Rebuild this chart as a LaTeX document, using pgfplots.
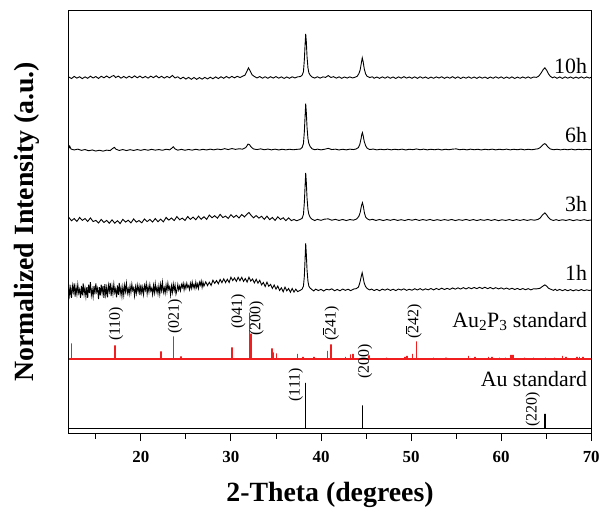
\documentclass[border=0pt]{standalone}
\usepackage{fontspec}
\setmainfont{Liberation Serif}
\usepackage{pgfplots}
\pgfplotsset{compat=1.18}
\definecolor{xrdred}{RGB}{240,30,30}
% bar over a digit (negative Miller index)
\newcommand{\ob}[1]{\rlap{\rule[0.74em]{0.5em}{0.055em}}#1}

\begin{document}
\begin{tikzpicture}[
  hkl/.style={rotate=90, anchor=west, inner sep=0pt, font=\fontsize{16}{16}\selectfont},
  lab/.style={anchor=base east, inner sep=0pt, font=\fontsize{22}{22}\selectfont},
]
\begin{axis}[
  scale only axis, width=524bp, height=425bp,
  xmin=12, xmax=70, ymin=0, ymax=425,
  xtick={20,30,...,70}, minor xtick={15,25,...,65},
  ytick=\empty,
  xtick pos=bottom, tick align=outside,
  major tick length=7.5bp, minor tick length=5bp,
  axis line style={line width=0.9bp},
  every tick/.style={black, line width=0.9bp},
  every minor tick/.style={black, line width=0.9bp},
  tick label style={font=\bfseries\fontsize{17}{17}\selectfont},
  xticklabel style={yshift=-7bp},
  /pgf/number format/assume math mode=true,
  clip=false,
]

% 10h
\addplot[black, line width=0.9bp] coordinates {
(12.0,357.8) (12.3,356.2) (12.6,358.4) (12.9,356.6) (13.2,358.0) (13.5,356.1) (13.8,357.9) (14.1,356.5) (14.4,358.6) (14.7,356.8)
(15.0,358.2) (15.3,356.3) (15.6,358.5) (15.9,357.0) (16.2,358.8) (16.5,356.9) (16.8,358.6) (17.0,359.3) (17.2,357.2) (17.5,358.7)
(17.8,356.6) (18.1,358.3) (18.4,356.7) (18.7,358.5) (19.0,356.9) (19.3,358.9) (19.6,357.0) (19.9,358.7) (20.2,356.8) (20.5,358.4)
(20.8,356.6) (21.1,358.6) (21.4,357.1) (21.7,359.0) (22.0,356.9) (22.3,358.5) (22.6,356.7) (22.9,358.3) (23.2,357.0) (23.5,359.4)
(23.8,356.8) (24.1,358.0) (24.4,355.9) (24.7,357.6) (25.0,355.7) (25.3,357.4) (25.6,355.5) (25.9,357.3) (26.2,355.4) (26.5,357.2)
(26.8,355.6) (27.1,357.4) (27.4,355.8) (27.7,357.6) (28.0,356.0) (28.3,357.9) (28.6,356.2) (28.9,358.0) (29.2,356.5) (29.5,358.3)
(29.8,356.7) (30.1,358.4) (30.4,356.9) (30.7,358.5) (31.0,357.2) (31.3,358.6) (31.55,359.5) (31.75,363) (31.95,367) (32.15,363.5)
(32.35,360) (32.6,358.3) (32.9,356.8) (33.2,358.2) (33.5,356.6) (33.8,358.0) (34.1,356.5) (34.4,358.1) (34.7,356.7) (35.0,358.2)
(35.3,356.6) (35.6,357.9) (35.9,356.4) (36.2,357.8) (36.5,356.5) (36.8,358.0) (37.1,356.8) (37.4,357.9) (37.7,358.2)
(37.9,359.5) (38.05,363) (38.15,375) (38.23,390) (38.3,401) (38.37,393) (38.45,378) (38.55,367) (38.65,362) (38.8,359.5) (39.0,357.8)
(39.3,356.7) (39.6,358.0) (39.9,356.6) (40.2,357.9) (40.5,357.4) (40.8,359.2) (41.1,357.3) (41.4,358.1) (41.7,356.6) (42.0,357.9)
(42.3,356.5) (42.6,357.8) (42.9,356.7) (43.2,357.9) (43.5,356.8) (43.8,357.6) (44.0,358.4)
(44.2,361) (44.35,365) (44.48,372) (44.58,377) (44.68,373) (44.8,366) (44.95,361) (45.1,358.6)
(45.4,357.2) (45.7,358.0) (45.9,356.5) (46.2,357.8) (46.5,356.4) (46.8,357.9) (47.1,356.6) (47.4,358.0) (47.7,356.5) (48.0,357.8)
(48.3,356.3) (48.6,357.9) (48.9,356.6) (49.2,358.1) (49.5,356.7) (49.8,357.8) (50.1,356.5) (50.4,357.9) (50.7,356.4) (51.0,358.0)
(51.3,356.6) (51.6,357.8) (51.9,356.3) (52.2,357.7) (52.5,356.5) (52.8,357.9) (53.1,356.7) (53.4,358.0) (53.7,356.4) (54.0,357.8)
(54.3,356.6) (54.6,358.1) (54.9,356.5) (55.2,357.9) (55.5,356.3) (55.8,357.7) (56.1,356.6) (56.4,357.9) (56.7,356.5) (57.0,357.8)
(57.3,356.4) (57.6,357.9) (57.9,356.6) (58.2,357.7) (58.5,356.3) (58.8,357.8) (59.1,356.5) (59.4,358.0) (59.7,356.6) (60.0,357.9)
(60.3,356.4) (60.6,357.8) (60.9,356.5) (61.2,357.9) (61.5,356.3) (61.8,357.7) (62.1,356.5) (62.4,357.8) (62.7,356.6) (63.0,357.9)
(63.3,356.5) (63.6,357.8) (63.9,357.4)
(64.1,358.2) (64.25,359.5) (64.45,362) (64.65,365) (64.85,367) (65.05,364.5) (65.25,361) (65.45,358.5)
(65.7,357.0) (65.9,357.9) (66.2,356.5) (66.5,357.8) (66.8,356.4) (67.1,357.9) (67.4,356.6) (67.7,357.8) (68.0,356.4) (68.3,357.7)
(68.6,356.5) (68.9,357.9) (69.2,356.6) (69.5,357.8) (69.8,356.7) (70.0,357.5)
};

% 6h
\addplot[black, line width=0.9bp] coordinates {
(12.0,286) (12.1,288.5) (12.25,285.5) (12.6,284.6) (13.0,285.4) (13.4,284.2) (13.8,285.0) (14.2,283.8) (14.6,284.6) (15.0,283.5)
(15.4,284.3) (15.8,283.4) (16.2,284.4) (16.6,284.0) (16.85,286) (17.05,287.2) (17.25,285.3) (17.6,284.1) (18.0,285.0) (18.4,284.0)
(18.8,284.9) (19.2,284.1) (19.6,285.0) (20.0,284.2) (20.4,285.1) (20.8,284.3) (21.2,285.2) (21.6,284.4) (22.0,285.0) (22.4,284.3)
(22.8,285.3) (23.2,284.7) (23.45,286.5) (23.6,287.8) (23.8,285.6) (24.1,284.4) (24.5,285.2) (24.9,284.3) (25.3,285.1) (25.7,284.4)
(26.1,285.3) (26.5,284.5) (26.9,285.2) (27.3,284.6) (27.7,285.4) (28.1,284.7) (28.5,285.5) (28.9,284.9) (29.3,285.9) (29.7,285.0)
(30.1,286.0) (30.5,285.2) (30.9,285.8) (31.3,285.4) (31.65,287) (31.9,290.5) (32.05,290) (32.25,287.5) (32.5,285.6) (32.9,285.0)
(33.3,285.7) (33.7,284.8) (34.1,285.5) (34.5,284.7) (34.9,285.4) (35.3,284.6) (35.7,285.3) (36.1,284.7) (36.5,285.3) (36.9,284.8)
(37.3,285.2) (37.7,285.5)
(37.9,287) (38.05,291) (38.15,303) (38.23,318) (38.3,331) (38.37,322) (38.45,307) (38.55,296) (38.65,291) (38.8,288) (39.0,285.8)
(39.3,284.8) (39.6,285.4) (40.0,284.7) (40.4,285.3) (40.8,286.2) (41.2,285.0) (41.6,285.4) (42.0,284.6) (42.4,285.3) (42.8,284.7)
(43.2,285.4) (43.6,285.0) (43.9,285.6)
(44.15,287) (44.3,290) (44.45,296) (44.52,300) (44.6,302) (44.68,299) (44.8,293) (44.95,289) (45.1,286.5)
(45.4,285.0) (45.8,285.5) (46.2,284.7) (46.6,285.3) (47.0,284.8) (47.4,285.4) (47.8,284.7) (48.2,285.3) (48.6,284.8) (49.0,285.4)
(49.4,284.6) (49.8,285.3) (50.2,284.9) (50.6,285.6) (51.0,284.8) (51.4,285.4) (51.8,284.7) (52.2,285.3) (52.6,284.8) (53.0,285.4)
(53.4,284.6) (53.8,285.3) (54.2,284.8) (54.6,285.4) (55.0,285.7) (55.4,284.8) (55.8,285.3) (56.2,284.7) (56.6,285.4) (57.0,284.8)
(57.4,285.3) (57.8,284.6) (58.2,285.3) (58.6,284.8) (59.0,285.4) (59.4,284.7) (59.8,285.3) (60.2,284.8) (60.6,285.4) (61.0,284.7)
(61.4,285.3) (61.8,284.8) (62.2,285.4) (62.6,284.7) (63.0,285.3) (63.4,284.8) (63.8,285.4)
(64.1,285.8) (64.3,286.8) (64.5,288.5) (64.7,290.3) (64.85,291) (65.0,289.8) (65.2,287.5) (65.45,285.6)
(65.8,284.8) (66.2,285.3) (66.6,284.7) (67.0,285.3) (67.4,284.8) (67.8,285.4) (68.2,284.7) (68.6,285.3) (69.0,284.8) (69.4,285.3)
(69.8,284.9) (70.0,285.2)
};

% 3h
\addplot[black, line width=0.9bp] coordinates {
(12.0,217.0) (12.3,213.6) (12.6,215.8) (12.9,212.9) (13.2,216.9) (13.5,214.0) (13.8,215.8) (14.1,212.9) (14.4,216.4) (14.7,212.8)
(15.0,213.9) (15.3,211.3) (15.6,214.9) (15.9,211.9) (16.2,213.9) (16.5,211.1) (16.8,214.5) (17.1,211.2) (17.4,213.6) (17.7,210.8)
(18.0,215.0) (18.3,212.2) (18.6,214.2) (18.9,211.5) (19.2,215.4) (19.5,212.2) (19.8,213.8) (20.1,211.5) (20.4,215.4) (20.7,212.7)
(21.0,214.9) (21.3,212.3) (21.6,215.8) (21.9,212.6) (22.2,215.2) (22.5,212.5) (22.8,216.9) (23.1,214.2) (23.4,216.4) (23.7,213.8)
(24.0,217.8) (24.3,214.6) (24.6,216.2) (24.9,213.9) (25.2,217.8) (25.5,215.0) (25.8,217.3) (26.1,214.6) (26.4,218.2) (26.7,215.0)
(27.0,217.6) (27.3,214.9) (27.6,219.3) (27.9,216.6) (28.2,218.7) (28.5,216.1) (28.8,220.0) (29.1,216.8) (29.4,218.3) (29.7,215.9)
(30.0,219.7) (30.3,216.9) (30.6,219.1) (30.9,216.4) (31.2,219.9) (31.5,217.4) (31.8,220.4) (32.0,221.9) (32.2,219.5) (32.5,216.5)
(32.8,218.8) (33.1,216.2) (33.4,218.1) (33.7,215.0) (34.0,218.2) (34.3,214.7) (34.6,216.9) (34.9,213.9) (35.2,217.5) (35.5,214.8)
(35.8,216.6) (36.1,213.7) (36.4,216.5) (36.7,213.7) (37.0,214.9) (37.3,213.6) (37.7,215.0)
(37.9,216) (38.05,220) (38.15,232) (38.23,248) (38.3,261.5) (38.37,252) (38.45,236) (38.55,225) (38.65,220) (38.8,217) (39.0,215.2)
(39.3,213.8) (39.6,215.0) (40.0,214.0) (40.4,215.2) (40.8,215.5) (41.2,214.1) (41.6,215.0) (42.0,213.9) (42.4,214.9) (42.8,213.8)
(43.2,214.8) (43.6,214.2) (43.95,215.3)
(44.2,218) (44.35,222) (44.5,229) (44.6,231.7) (44.7,228) (44.83,221) (44.97,217) (45.15,215.4)
(45.4,214.3) (45.7,215.1) (46.1,213.9) (46.5,214.9) (46.9,213.8) (47.3,214.8) (47.7,214.0) (48.1,215.0) (48.5,213.9) (48.9,214.7)
(49.3,213.8) (49.7,214.9) (50.1,214.1) (50.5,215.0) (50.9,213.9) (51.3,214.8) (51.7,214.0) (52.1,214.9) (52.5,213.8) (52.9,214.7)
(53.3,213.9) (53.7,214.8) (54.1,214.0) (54.5,214.9) (54.9,213.8) (55.3,214.7) (55.7,214.0) (56.1,214.9) (56.5,213.9) (56.9,214.8)
(57.3,213.8) (57.7,214.7) (58.1,214.0) (58.5,214.9) (58.9,213.9) (59.3,214.8) (59.7,213.7) (60.1,214.6) (60.5,213.9) (60.9,214.8)
(61.3,213.8) (61.7,214.7) (62.1,213.9) (62.5,214.8) (62.9,213.9) (63.3,214.7) (63.7,214.1)
(64.1,215.0) (64.35,216.5) (64.55,219) (64.85,221.5) (65.05,219.5) (65.25,216.8) (65.5,214.8)
(65.8,213.9) (66.1,214.7) (66.4,213.8) (66.8,214.6) (67.2,213.9) (67.6,214.8) (68.0,213.7) (68.4,214.6) (68.8,213.9) (69.2,214.7)
(69.6,213.8) (70.0,214.4)
};

% 1h
\addplot[black, line width=0.9bp] coordinates {
(12.0,149.5) (12.1,138.7) (12.2,145.9) (12.3,136.3) (12.4,148.3) (12.5,142.3) (12.6,150.7) (12.7,137.5) (12.8,147.1) (12.9,139.9)
(13.0,149.5) (13.1,141.1) (13.2,144.7) (13.3,136.3) (13.4,148.3) (13.5,138.7) (13.6,150.7) (13.7,139.9) (13.8,145.9) (13.9,137.5)
(14.0,147.1) (14.1,136.3) (14.2,149.5) (14.3,141.1) (14.4,151.9) (14.5,138.7) (14.6,144.7) (14.7,137.5) (14.8,148.3) (14.9,139.9)
(15.0,150.7) (15.1,142.3) (15.2,145.9) (15.3,135.1) (15.4,147.1) (15.5,138.7) (15.6,149.5) (15.7,141.1) (15.8,148.3) (15.9,136.3)
(16.0,150.0) (16.1,139.2) (16.2,146.4) (16.3,136.8) (16.4,148.8) (16.5,142.8) (16.6,151.2) (16.7,138.0) (16.8,147.6) (16.9,140.4)
(17.0,150.0) (17.1,141.6) (17.2,145.2) (17.3,136.8) (17.4,148.8) (17.5,139.2) (17.6,151.2) (17.7,140.4) (17.8,146.4) (17.9,138.0)
(18.0,147.2) (18.1,139.1) (18.2,149.0) (18.3,142.7) (18.4,150.8) (18.5,140.9) (18.6,145.4) (18.7,140.0) (18.8,148.1) (18.9,141.8)
(19.0,149.9) (19.1,143.6) (19.2,146.3) (19.3,138.2) (19.4,147.2) (19.5,140.9) (19.6,149.0) (19.7,142.7) (19.8,148.1) (19.9,139.1)
(20.0,149.5) (20.1,141.4) (20.2,146.8) (20.3,139.6) (20.4,148.6) (20.5,144.1) (20.6,150.4) (20.7,140.5) (20.8,147.7) (20.9,142.3)
(21.0,149.5) (21.1,143.2) (21.2,145.9) (21.3,139.6) (21.4,148.6) (21.5,141.4) (21.6,150.4) (21.7,142.3) (21.8,146.8) (21.9,140.5)
(22.0,148.2) (22.1,140.1) (22.2,150.0) (22.3,143.7) (22.4,151.8) (22.5,141.9) (22.6,146.4) (22.7,141.0) (22.8,149.1) (22.9,142.8)
(23.0,150.9) (23.1,144.6) (23.2,147.3) (23.3,139.2) (23.4,148.2) (23.5,141.9) (23.6,150.0) (23.7,143.7) (23.8,149.1) (23.9,140.1)
(24.0,143.8) (24.1,149.6) (24.2,144.2) (24.3,147.9) (24.4,143.5) (24.5,149.6) (24.6,146.7) (24.7,150.8) (24.8,144.4) (24.9,149.6)
(25.0,145.7) (25.1,150.8) (25.2,146.9) (25.3,148.5) (25.4,144.6) (25.5,150.8) (25.6,145.9) (25.7,152.0) (25.8,146.6) (25.9,149.7)
(26.0,145.8) (26.1,152.0) (26.2,146.6) (26.3,150.2) (26.4,145.8) (26.5,151.9) (26.6,149.0) (26.7,153.1) (26.8,146.8) (26.9,151.9)
(27.0,148.0) (27.2,152.3) (27.4,148.6) (27.6,151.9) (27.8,148.7) (28.0,154.0) (28.2,150.8) (28.4,153.6) (28.6,150.4) (28.8,154.7)
(29.0,151.5) (29.2,155.3) (29.4,151.6) (29.6,154.9) (29.8,151.7) (30.0,157.0) (30.2,153.6) (30.4,156.2) (30.6,152.8) (30.8,156.9)
(31.0,153.5) (31.2,156.9) (31.4,152.8) (31.6,155.7) (31.8,152.1) (32.0,157.0) (32.2,153.1) (32.4,155.2) (32.6,151.3) (32.8,154.9)
(33.0,151.0) (33.2,153.9) (33.4,149.3) (33.6,151.7) (33.8,147.6) (34.0,152.0) (34.2,147.9) (34.4,149.8) (34.6,145.7) (34.8,149.1)
(35.0,145.0) (35.2,148.1) (35.4,143.7) (35.6,146.3) (35.8,142.4) (36.0,147.0) (36.2,143.3) (36.4,145.6) (36.6,141.9) (36.8,145.7)
(37.0,142.0) (37.2,145.0) (37.4,142.5) (37.7,143.8)
(37.9,145) (38.05,148) (38.15,158) (38.23,175) (38.3,191) (38.37,180) (38.45,164) (38.55,153) (38.65,148) (38.8,146) (39.0,144.5)
(39.2,143.2) (39.4,145.0) (39.7,143.6) (40.0,144.8) (40.3,143.1) (40.6,144.9) (40.9,144.2) (41.2,145.3) (41.5,143.4) (41.8,144.7)
(42.1,143.3) (42.4,145.1) (42.7,143.8) (43.0,144.9) (43.3,143.5) (43.6,145.0) (43.9,145.5)
(44.15,147) (44.3,151) (44.45,157) (44.57,161.5) (44.67,157) (44.8,151) (44.95,147.5) (45.15,145.5)
(45.4,144.2) (45.6,145.1) (45.9,143.6) (46.2,144.8) (46.5,143.4) (46.8,145.0) (47.1,144.0) (47.4,145.2) (47.7,143.7) (48.0,144.9)
(48.3,143.5) (48.6,145.1) (48.9,144.1) (49.2,145.3) (49.5,143.8) (49.8,144.9) (50.1,143.9) (50.4,145.4) (50.7,144.2) (51.0,145.5)
(51.3,144.0) (51.6,145.3) (51.9,144.3) (52.2,145.6) (52.5,144.2) (52.8,145.7) (53.1,144.5) (53.4,146.0) (53.7,144.6) (54.0,145.8)
(54.3,144.7) (54.6,146.2) (54.9,145.0) (55.2,146.3) (55.5,145.1) (55.8,146.5) (56.1,145.2) (56.4,146.6) (56.7,145.4) (57.0,146.7)
(57.3,145.5) (57.6,146.8) (57.9,145.6) (58.2,146.9) (58.5,145.5) (58.8,146.7) (59.1,145.3) (59.4,146.5) (59.7,145.2) (60.0,146.3)
(60.3,145.0) (60.6,146.1) (60.9,144.8) (61.2,145.9) (61.5,144.6) (61.8,145.7) (62.1,144.5) (62.4,145.6) (62.7,144.4) (63.0,145.5)
(63.3,144.3) (63.6,145.4) (63.9,145.2)
(64.3,145.8) (64.55,147.5) (64.85,149.3) (65.05,148) (65.25,146) (65.5,144.9)
(65.8,143.8) (66.0,144.9) (66.2,143.6) (66.5,144.7) (66.8,143.5) (67.1,144.6) (67.4,143.4) (67.7,144.5) (68.0,143.3) (68.3,144.4)
(68.6,143.5) (68.9,144.6) (69.2,143.4) (69.5,144.3) (69.8,143.6) (70.0,144.2)
};

% Au2P3 standard: baseline, then sticks
\addplot[draw=xrdred, line width=2bp, sharp plot] coordinates {
(12,74.5) (20,74.5) (30,74.5) (40,74.5) (50,74.5) (60,74.5) (70,74.5)
};
\addplot[draw=xrdred, line width=1.5bp, line join=bevel] coordinates {
(12.3,74.5) (12.3,90.6) (12.3,74.5) (17.15,74.5) (17.15,88.5) (17.15,74.5)
(22.26,74.5) (22.26,82.7) (22.26,74.5) (23.63,74.5) (23.63,97.7) (23.63,74.5)
(24.48,74.5) (24.48,77.5) (24.48,74.5) (30.13,74.5) (30.13,86.7) (30.13,74.5)
(32.04,74.5) (32.04,121.5) (32.04,74.5) (32.23,74.5) (32.23,100.5) (32.23,74.5)
(34.55,74.5) (34.55,85.5) (34.55,74.5) (34.7,74.5) (34.7,81.5) (34.7,74.5)
(35.07,74.5) (35.07,80.5) (35.07,74.5) (37.4,74.5) (37.4,80) (37.4,74.5)
(38.0,74.5) (38.0,77) (38.0,74.5) (39.24,74.5) (39.24,77) (39.24,74.5)
(40.7,74.5) (40.7,83) (40.7,74.5) (41.1,74.5) (41.1,89.5) (41.1,74.5)
(42.7,74.5) (42.7,77) (42.7,74.5) (43.3,74.5) (43.3,79.5) (43.3,74.5)
(43.55,74.5) (43.55,80) (43.55,74.5) (45.35,74.5) (45.35,78.5) (45.35,74.5)
(47.25,74.5) (47.25,76.2) (47.25,74.5) (49.3,74.5) (49.3,77) (49.3,74.5)
(49.55,74.5) (49.55,78) (49.55,74.5) (50.15,74.5) (50.15,80) (50.15,74.5)
(50.6,74.5) (50.6,92.5) (50.6,74.5) (52.5,74.5) (52.5,76.2) (52.5,74.5)
(53.9,74.5) (53.9,76.2) (53.9,74.5) (56.4,74.5) (56.4,78) (56.4,74.5)
(57.1,74.5) (57.1,77) (57.1,74.5) (58.6,74.5) (58.6,77) (58.6,74.5)
(59.0,74.5) (59.0,77) (59.0,74.5) (59.8,74.5) (59.8,76.2) (59.8,74.5)
(60.5,74.5) (60.5,76.2) (60.5,74.5) (61.1,74.5) (61.1,79) (61.1,74.5)
(61.3,74.5) (61.3,79) (61.3,74.5) (62.6,74.5) (62.6,76.2) (62.6,74.5)
(63.6,74.5) (63.6,76.2) (63.6,74.5) (64.9,74.5) (64.9,76.2) (64.9,74.5)
(65.9,74.5) (65.9,76.2) (65.9,74.5) (66.8,74.5) (66.8,78) (66.8,74.5)
(67.2,74.5) (67.2,77) (67.2,74.5) (68.4,74.5) (68.4,77) (68.4,74.5)
(68.7,74.5) (68.7,77) (68.7,74.5) (69.1,74.5) (69.1,77) (69.1,74.5)
};

% Au standard: baseline, then sticks
\addplot[draw=black, line width=1bp, sharp plot] coordinates {
(12,5) (20,5) (30,5) (40,5) (50,5) (60,5) (70,5)
};
\addplot[draw=black, line width=1.3bp, line join=bevel] coordinates {
(38.3,5) (38.3,51) (38.3,5) (44.6,5) (44.6,28.5) (44.6,5) (64.85,5) (64.85,20) (64.85,5)
};

% series names
\node[lab] at (axis cs:69.55,361) {10h};
\node[lab] at (axis cs:69.55,291.7) {6h};
\node[lab] at (axis cs:69.55,223.3) {3h};
\node[lab] at (axis cs:69.55,153.3) {1h};
\node[lab] at (axis cs:69.55,106.7) {Au\textsubscript{2}P\textsubscript{3} standard};
\node[lab] at (axis cs:69.55,47.5) {Au standard};

% Miller indices
\node[hkl] at (axis cs:17.25,93) {(110)};
\node[hkl] at (axis cs:23.8,100) {(021)};
\node[hkl] at (axis cs:30.83,105) {(041)};
\node[hkl] at (axis cs:32.85,98) {(200)};
\node[hkl] at (axis cs:41.1,93) {(\ob{2}41)};
\node[hkl] at (axis cs:50.3,95) {(\ob{2}42)};
\node[hkl] at (axis cs:37.2,32) {(111)};
\node[hkl] at (axis cs:44.9,55) {(200)};
\node[hkl] at (axis cs:63.5,6.7) {(220)};

% axis titles
\node[font=\bfseries\fontsize{28}{28}\selectfont, anchor=base]
  at ([yshift=-68bp]rel axis cs:0.5,0) {2-Theta (degrees)};
\node[font=\bfseries\fontsize{28}{28}\selectfont, rotate=90, anchor=base]
  at ([xshift=-35.7bp]rel axis cs:0,0.5) {Normalized Intensity (a.u.)};
\end{axis}
\path ([shift={(-69bp,-75bp)}]current axis.south west)
  rectangle ([shift={(10bp,10bp)}]current axis.north east);
\end{tikzpicture}
\end{document}
